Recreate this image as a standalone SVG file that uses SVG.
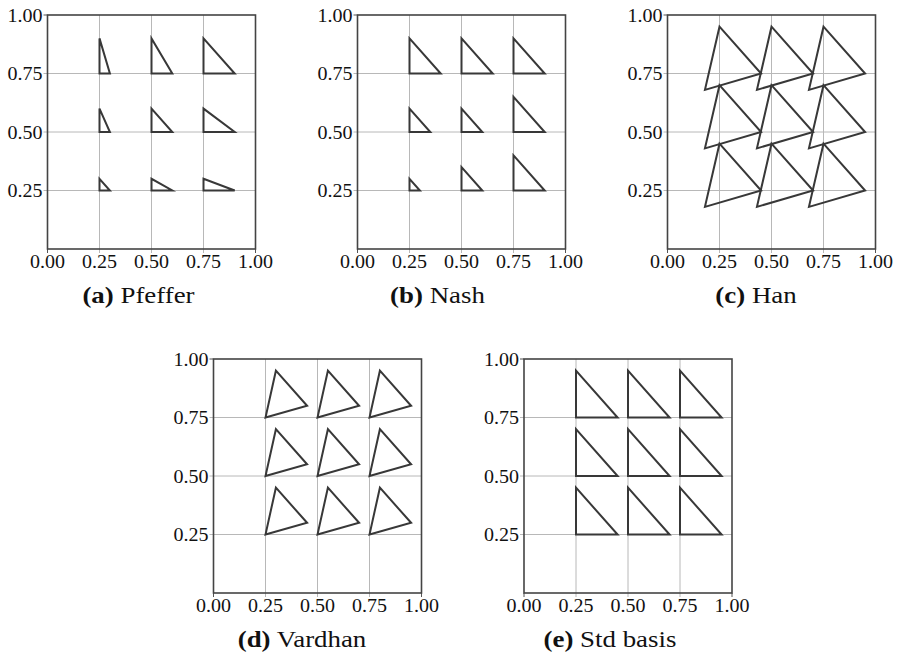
<svg xmlns="http://www.w3.org/2000/svg" width="900" height="656" viewBox="0 0 900 656">
  <style>
    .bg { fill: #ffffff; }
    .frame { fill: none; stroke: #444444; stroke-width: 1.6; }
    .grid { stroke: #b8b8b8; stroke-width: 1; fill: none; }
    .tick { stroke: #555555; stroke-width: 1; }
    .tri { fill: none; stroke: #383838; stroke-width: 2; stroke-linejoin: miter; }
    .tl { font-family: "Liberation Serif", "Times New Roman", serif; font-size: 18.5px; fill: #111111; }
    .ty { text-anchor: end; }
    .tx { text-anchor: middle; }
    .cap { font-family: "Liberation Serif", "Times New Roman", serif; font-size: 24px; fill: #111111; text-anchor: middle; }
    .cap .b { font-weight: bold; }
  </style>
  <defs>
    <!-- shared axes: frame, grid, ticks and tick labels (local 208 x 234 box) -->
    <g id="axes">
      <line class="grid" x1="52" y1="0" x2="52" y2="238"/>
      <line class="grid" x1="104" y1="0" x2="104" y2="238"/>
      <line class="grid" x1="156" y1="0" x2="156" y2="238"/>
      <line class="grid" x1="-4" y1="58.5" x2="208" y2="58.5"/>
      <line class="grid" x1="-4" y1="117" x2="208" y2="117"/>
      <line class="grid" x1="-4" y1="175.5" x2="208" y2="175.5"/>
      <line class="tick" x1="-4" y1="0" x2="0" y2="0"/>
      <line class="tick" x1="0" y1="234" x2="0" y2="238"/>
      <line class="tick" x1="208" y1="234" x2="208" y2="238"/>
      <rect class="frame" x="0" y="0" width="208" height="234"/>
      <text class="tl ty" x="-5" y="6.5" textLength="35" lengthAdjust="spacingAndGlyphs">1.00</text>
      <text class="tl ty" x="-5" y="65" textLength="35" lengthAdjust="spacingAndGlyphs">0.75</text>
      <text class="tl ty" x="-5" y="123.5" textLength="35" lengthAdjust="spacingAndGlyphs">0.50</text>
      <text class="tl ty" x="-5" y="182" textLength="35" lengthAdjust="spacingAndGlyphs">0.25</text>
      <text class="tl tx" x="0" y="252.5" textLength="35" lengthAdjust="spacingAndGlyphs">0.00</text>
      <text class="tl tx" x="52" y="252.5" textLength="35" lengthAdjust="spacingAndGlyphs">0.25</text>
      <text class="tl tx" x="104" y="252.5" textLength="35" lengthAdjust="spacingAndGlyphs">0.50</text>
      <text class="tl tx" x="156" y="252.5" textLength="35" lengthAdjust="spacingAndGlyphs">0.75</text>
      <text class="tl tx" x="208" y="252.5" textLength="35" lengthAdjust="spacingAndGlyphs">1.00</text>
    </g>
  </defs>

  <rect class="bg" x="0" y="0" width="900" height="656"/>

  <!-- (a) Pfeffer -->
  <g id="panel-pfeffer" transform="translate(47.5,15)">
    <use href="#axes"/>
    <g id="tris-pfeffer">
      <polygon class="tri" points="52,58.5 62.4,58.5 52,23.4"/>
      <polygon class="tri" points="104,58.5 124.8,58.5 104,23.4"/>
      <polygon class="tri" points="156,58.5 187.2,58.5 156,23.4"/>
      <polygon class="tri" points="52,117 62.4,117 52,93.6"/>
      <polygon class="tri" points="104,117 124.8,117 104,93.6"/>
      <polygon class="tri" points="156,117 187.2,117 156,93.6"/>
      <polygon class="tri" points="52,175.5 62.4,175.5 52,163.8"/>
      <polygon class="tri" points="104,175.5 124.8,175.5 104,163.8"/>
      <polygon class="tri" points="156,175.5 187.2,175.5 156,163.8"/>
    </g>
    <text class="cap" transform="translate(91,288) scale(1.12,1)"><tspan class="b">(a)</tspan> Pfeffer</text>
  </g>

  <!-- (b) Nash -->
  <g id="panel-nash" transform="translate(357.5,15)">
    <use href="#axes"/>
    <g id="tris-nash">
      <polygon class="tri" points="52,58.5 83.2,58.5 52,23.4"/>
      <polygon class="tri" points="104,58.5 135.2,58.5 104,23.4"/>
      <polygon class="tri" points="156,58.5 187.2,58.5 156,23.4"/>
      <polygon class="tri" points="52,117 72.8,117 52,93.6"/>
      <polygon class="tri" points="104,117 124.8,117 104,93.6"/>
      <polygon class="tri" points="156,117 187.2,117 156,81.9"/>
      <polygon class="tri" points="52,175.5 62.4,175.5 52,163.8"/>
      <polygon class="tri" points="104,175.5 124.8,175.5 104,152.1"/>
      <polygon class="tri" points="156,175.5 187.2,175.5 156,140.4"/>
    </g>
    <text class="cap" transform="translate(80,288) scale(1.12,1)"><tspan class="b">(b)</tspan> Nash</text>
  </g>

  <!-- (c) Han -->
  <g id="panel-han" transform="translate(667.5,15)">
    <use href="#axes"/>
    <g id="tris-han">
      <polygon class="tri" points="52,11.7 93.6,58.5 37.44,74.88"/>
      <polygon class="tri" points="104,11.7 145.6,58.5 89.44,74.88"/>
      <polygon class="tri" points="156,11.7 197.6,58.5 141.44,74.88"/>
      <polygon class="tri" points="52,70.2 93.6,117 37.44,133.38"/>
      <polygon class="tri" points="104,70.2 145.6,117 89.44,133.38"/>
      <polygon class="tri" points="156,70.2 197.6,117 141.44,133.38"/>
      <polygon class="tri" points="52,128.7 93.6,175.5 37.44,191.88"/>
      <polygon class="tri" points="104,128.7 145.6,175.5 89.44,191.88"/>
      <polygon class="tri" points="156,128.7 197.6,175.5 141.44,191.88"/>
    </g>
    <text class="cap" transform="translate(88.5,288) scale(1.12,1)"><tspan class="b">(c)</tspan> Han</text>
  </g>

  <!-- (d) Vardhan -->
  <g id="panel-vardhan" transform="translate(213.5,359)">
    <use href="#axes"/>
    <g id="tris-vardhan">
      <polygon class="tri" points="52,58.5 93.6,46.8 62.4,11.7"/>
      <polygon class="tri" points="104,58.5 145.6,46.8 114.4,11.7"/>
      <polygon class="tri" points="156,58.5 197.6,46.8 166.4,11.7"/>
      <polygon class="tri" points="52,117 93.6,105.3 62.4,70.2"/>
      <polygon class="tri" points="104,117 145.6,105.3 114.4,70.2"/>
      <polygon class="tri" points="156,117 197.6,105.3 166.4,70.2"/>
      <polygon class="tri" points="52,175.5 93.6,163.8 62.4,128.7"/>
      <polygon class="tri" points="104,175.5 145.6,163.8 114.4,128.7"/>
      <polygon class="tri" points="156,175.5 197.6,163.8 166.4,128.7"/>
    </g>
    <text class="cap" transform="translate(88.5,288) scale(1.12,1)"><tspan class="b">(d)</tspan> Vardhan</text>
  </g>

  <!-- (e) Std basis -->
  <g id="panel-std" transform="translate(524,359)">
    <use href="#axes"/>
    <g id="tris-std">
      <polygon class="tri" points="52,58.5 93.6,58.5 52,11.7"/>
      <polygon class="tri" points="104,58.5 145.6,58.5 104,11.7"/>
      <polygon class="tri" points="156,58.5 197.6,58.5 156,11.7"/>
      <polygon class="tri" points="52,117 93.6,117 52,70.2"/>
      <polygon class="tri" points="104,117 145.6,117 104,70.2"/>
      <polygon class="tri" points="156,117 197.6,117 156,70.2"/>
      <polygon class="tri" points="52,175.5 93.6,175.5 52,128.7"/>
      <polygon class="tri" points="104,175.5 145.6,175.5 104,128.7"/>
      <polygon class="tri" points="156,175.5 197.6,175.5 156,128.7"/>
    </g>
    <text class="cap" transform="translate(86,288) scale(1.12,1)"><tspan class="b">(e)</tspan> Std basis</text>
  </g>
</svg>
